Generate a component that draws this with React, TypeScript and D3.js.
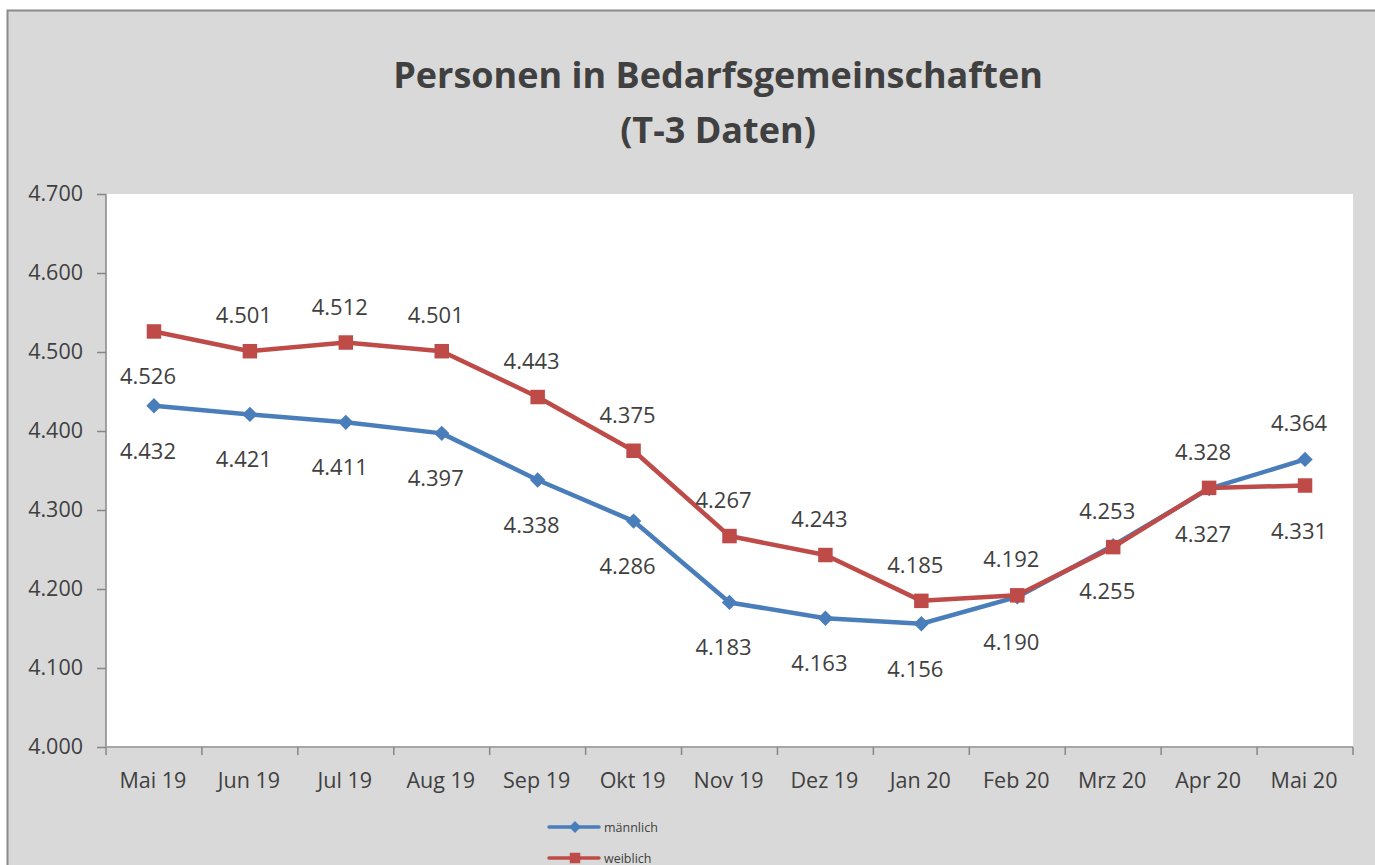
import { useEffect, useRef } from "react";
import * as d3 from "d3";

const months = ["Mai 19", "Jun 19", "Jul 19", "Aug 19", "Sep 19", "Okt 19", "Nov 19", "Dez 19", "Jan 20", "Feb 20", "Mrz 20", "Apr 20", "Mai 20"];
const maennlich = [4.432, 4.421, 4.411, 4.397, 4.338, 4.286, 4.183, 4.163, 4.156, 4.190, 4.255, 4.327, 4.364];
const weiblich = [4.526, 4.501, 4.512, 4.501, 4.443, 4.375, 4.267, 4.243, 4.185, 4.192, 4.253, 4.328, 4.331];
// where each data label sits relative to its point
const maennlichLabelSide = ["below", "below", "below", "below", "below", "below", "below", "below", "below", "below", "below", "below", "above"];
const weiblichLabelSide = ["below", "above", "above", "above", "above", "above", "above", "above", "above", "above", "above", "above", "below"];
const yTicks = [4.0, 4.1, 4.2, 4.3, 4.4, 4.5, 4.6, 4.7];

const W = 1375;
const H = 865;
const FONT = "'Open Sans', 'DejaVu Sans', sans-serif";
const BLUE = "#4A7EBB";
const RED = "#BE4B48";
const TEXT = "#404040";

const fmt = (v: number) => v.toFixed(3);

export default function App() {
    const svgRef = useRef<SVGSVGElement>(null);

    useEffect(() => {
        const svg = d3.select(svgRef.current);
        svg.selectAll("*").remove();

        const plot = { left: 106, top: 194, right: 1353, bottom: 747 };

        // Chart background + border
        svg.append("rect")
            .attr("x", 7.5).attr("y", 10.5)
            .attr("width", W + 20).attr("height", H + 20)
            .attr("fill", "#D9D9D9")
            .attr("stroke", "#8A8A8A")
            .attr("stroke-width", 2);

        svg.append("rect")
            .attr("x", plot.left).attr("y", plot.top)
            .attr("width", plot.right - plot.left)
            .attr("height", plot.bottom - plot.top)
            .attr("fill", "#FFFFFF");

        // Title
        const title = svg.append("text")
            .attr("x", 718).attr("text-anchor", "middle")
            .style("font-family", FONT)
            .style("font-weight", "bold")
            .style("font-size", "36px")
            .attr("fill", TEXT);
        title.append("tspan").attr("x", 718).attr("y", 88).text("Personen in Bedarfsgemeinschaften");
        title.append("tspan").attr("x", 718).attr("y", 143).text("(T-3 Daten)");

        const x = d3.scaleBand<string>()
            .domain(months)
            .range([plot.left, plot.right]);
        const cx = (m: string) => (x(m) || 0) + x.bandwidth() / 2;

        const y = d3.scaleLinear()
            .domain([4.0, 4.7])
            .range([plot.bottom, plot.top]);

        // Y axis
        const yAxis = svg.append("g")
            .attr("transform", `translate(${plot.left},0)`)
            .call(d3.axisLeft(y).tickValues(yTicks).tickSize(9).tickPadding(14).tickFormat(d => fmt(+d)));
        yAxis.selectAll("line").attr("stroke", "#868686").attr("stroke-width", 1.5);
        yAxis.select(".domain").attr("stroke", "#868686").attr("stroke-width", 1.5).attr("d", `M0,${plot.top}V${plot.bottom}`);
        yAxis.selectAll("text")
            .style("font-family", FONT).style("font-size", "21.5px").attr("fill", TEXT);

        // X axis (ticks between categories)
        const xg = svg.append("g").attr("transform", `translate(0,${plot.bottom})`);
        xg.append("line")
            .attr("x1", plot.left).attr("x2", plot.right)
            .attr("stroke", "#A6A6A6").attr("stroke-width", 2);
        const boundaries = months.map(m => x(m) || 0).concat([plot.right]);
        xg.selectAll(".xtick")
            .data(boundaries)
            .enter()
            .append("line")
            .attr("x1", d => d).attr("x2", d => d)
            .attr("y1", 0).attr("y2", 8)
            .attr("stroke", "#868686").attr("stroke-width", 1.5);
        xg.selectAll(".xlabel")
            .data(months)
            .enter()
            .append("text")
            .attr("x", d => cx(d) - 1)
            .attr("y", 41)
            .attr("text-anchor", "middle")
            .style("font-family", FONT).style("font-size", "21.5px")
            .attr("fill", TEXT)
            .text(d => d);

        const line = d3.line<number>()
            .x((_, i) => cx(months[i]))
            .y(d => y(d));

        const drawSeries = (values: number[], sides: string[], color: string, shape: d3.SymbolType, size: number) => {
            svg.append("path")
                .datum(values)
                .attr("fill", "none")
                .attr("stroke", color)
                .attr("stroke-width", 4.5)
                .attr("stroke-linejoin", "round")
                .attr("d", line);

            svg.selectAll(null)
                .data(values)
                .enter()
                .append("path")
                .attr("transform", (d, i) => `translate(${cx(months[i])},${y(d)})`)
                .attr("d", d3.symbol().type(shape).size(size)())
                .attr("fill", color);

            svg.selectAll(null)
                .data(values)
                .enter()
                .append("text")
                .attr("x", (_, i) => cx(months[i]) - 6)
                .attr("y", (d, i) => y(d) + (sides[i] === "above" ? -28 : 53))
                .attr("text-anchor", "middle")
                .style("font-family", FONT).style("font-size", "22px")
                .attr("fill", TEXT)
                .text(d => fmt(d));
        };

        drawSeries(maennlich, maennlichLabelSide, BLUE, d3.symbolDiamond2, 150);
        drawSeries(weiblich, weiblichLabelSide, RED, d3.symbolSquare, 210);

        // Legend
        const legend = [
            { name: "männlich", color: BLUE, shape: d3.symbolDiamond2, size: 90 },
            { name: "weiblich", color: RED, shape: d3.symbolSquare, size: 110 },
        ];
        const lg = svg.append("g").selectAll("g")
            .data(legend)
            .enter()
            .append("g")
            .attr("transform", (_, i) => `translate(549,${827 + i * 31})`);
        lg.append("line")
            .attr("x1", 0).attr("x2", 50)
            .attr("stroke", d => d.color).attr("stroke-width", 3.5)
            .attr("stroke-linecap", "round");
        lg.append("path")
            .attr("transform", "translate(26,0)")
            .attr("d", d => d3.symbol().type(d.shape).size(d.size)())
            .attr("fill", d => d.color);
        lg.append("text")
            .attr("x", 55).attr("y", 5)
            .style("font-family", FONT).style("font-size", "12.5px")
            .attr("fill", TEXT)
            .text(d => d.name);
    }, []);

    return (
        <div style={{ position: "absolute", left: 0, top: 0, width: W, height: H, overflow: "hidden", background: "#fff" }}>
            <svg ref={svgRef} width={W} height={H} />
        </div>
    );
}
